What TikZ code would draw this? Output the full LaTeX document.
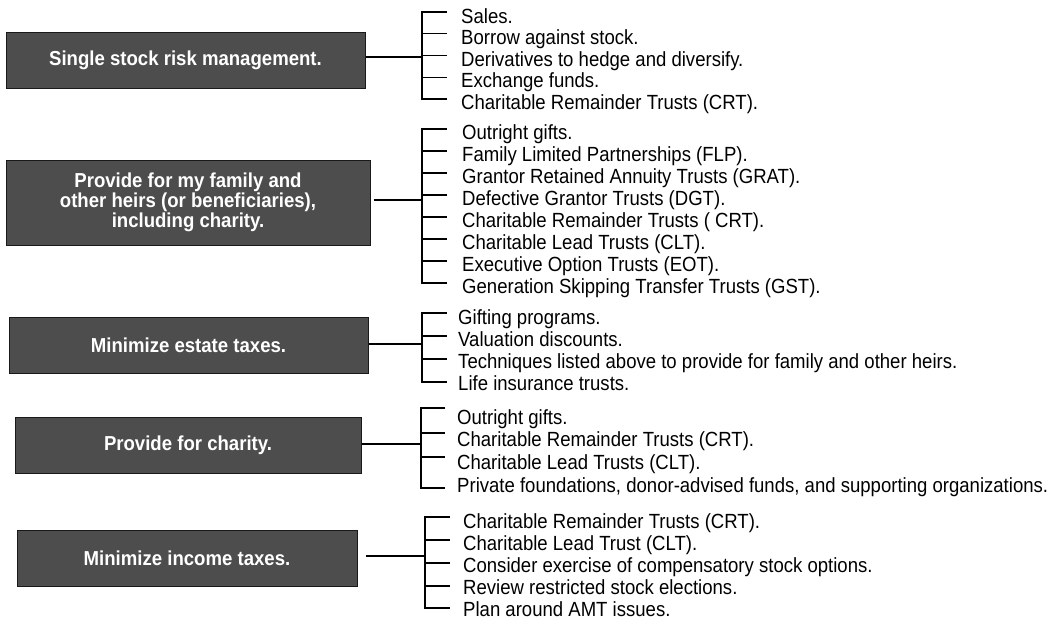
\documentclass[tikz,border=0pt]{standalone}
\usepackage{fontspec}
\setmainfont{Liberation Sans}
\newfontfamily\listfont[FakeStretch=0.905]{Liberation Sans}
\newfontfamily\goalfont[FakeStretch=0.92]{Liberation Sans}
\definecolor{boxgray}{HTML}{4D4D4D}
\begin{document}
\begin{tikzpicture}[x=1pt,y=-1pt,
  goal/.style={draw=black!90, line width=1pt, fill=boxgray, text=white,
    font=\goalfont\fontsize{20.2}{20}\selectfont\bfseries, inner sep=0pt, align=center},
  item/.style={anchor=base west, inner sep=0pt, font=\listfont\fontsize{20.5}{22}\selectfont},
  conn/.style={line width=1.3pt, draw=black}]
\useasboundingbox (0,0) rectangle (1054,621);

% goal boxes
\node[goal, minimum width=359pt, minimum height=56pt] (b1) at (185.5,60) {Single stock risk management.};
\node[goal, minimum width=364pt, minimum height=85pt] (b2) at (188,202.5) {Provide for my family and\\other heirs (or beneficiaries),\\including charity.};
\node[goal, minimum width=359pt, minimum height=56pt] (b3) at (188.5,345) {Minimize estate taxes.};
\node[goal, minimum width=346pt, minimum height=56pt] (b4) at (188,445) {Provide for charity.};
\node[goal, minimum width=340pt, minimum height=56pt] (b5) at (187,558) {Minimize income taxes.};

% junction points on the brackets
\coordinate (j1) at (422,57);
\coordinate (j2) at (422,200);
\coordinate (j3) at (422,344);
\coordinate (j4) at (421,444);
\coordinate (j5) at (425,556);

\draw[conn] (b1.east |- j1) -- (j1);
\draw[conn] ([xshift=3pt]b2.east |- j2) -- (j2);
\draw[conn] (b3.east |- j3) -- (j3);
\draw[conn] (b4.east |- j4) -- (j4);
\draw[conn] ([xshift=8pt]b5.east |- j5) -- (j5);

% group 1
\foreach \ty/\ly/\txt [count=\i] in {12/16/Sales., 33.75/37.5/Borrow against stock., 55.5/59/Derivatives to hedge and diversify., 77.25/80.5/Exchange funds., 99/102/Charitable Remainder Trusts (CRT).}{
  \coordinate (a\i) at (422,\ty);
  \coordinate (ae\i) at (447,\ty);
  \node[item] (ai\i) at (461,\ly+7.3) {\txt};
  \draw[conn] (a\i) -- (ae\i);
}
\draw[conn] (ae1) -- (a1) -- (a5) -- (ae5);

% group 2
\foreach \ty/\ly/\txt [count=\i] in {129/132/Outright gifts., 151/154/Family Limited Partnerships (FLP)., 173/176/Grantor Retained Annuity Trusts (GRAT)., 195/198/Defective Grantor Trusts (DGT)., 217/220/Charitable Remainder Trusts ( CRT)., 239/242/Charitable Lead Trusts (CLT)., 261/264/Executive Option Trusts (EOT)., 283/286/Generation Skipping Transfer Trusts (GST).}{
  \coordinate (c\i) at (422,\ty);
  \coordinate (ce\i) at (447,\ty);
  \node[item] (ci\i) at (462,\ly+7.3) {\txt};
  \draw[conn] (c\i) -- (ce\i);
}
\draw[conn] (ce1) -- (c1) -- (c8) -- (ce8);

% group 3
\foreach \ty/\ly/\txt [count=\i] in {313/317/Gifting programs., 336/339/Valuation discounts., 359/361/Techniques listed above to provide for family and other heirs., 382/383/Life insurance trusts.}{
  \coordinate (d\i) at (422,\ty);
  \coordinate (de\i) at (447,\ty);
  \node[item] (di\i) at (458,\ly+7.3) {\txt};
  \draw[conn] (d\i) -- (de\i);
}
\draw[conn] (de1) -- (d1) -- (d4) -- (de4);

% group 4
\foreach \ty/\ly/\txt [count=\i] in {408/417/Outright gifts., 433/439.5/Charitable Remainder Trusts (CRT)., 457/462/Charitable Lead Trusts (CLT)., 488/485/{Private foundations, donor-advised funds, and supporting organizations.}}{
  \coordinate (f\i) at (421,\ty);
  \coordinate (fe\i) at (445,\ty);
  \node[item] (fi\i) at (457,\ly+7.3) {\txt};
  \draw[conn] (f\i) -- (fe\i);
}
\draw[conn] (fe1) -- (f1) -- (f4) -- (fe4);

% group 5
\foreach \ty/\ly/\txt [count=\i] in {517/521/Charitable Remainder Trusts (CRT)., 540/543/Charitable Lead Trust (CLT)., 563/565/Consider exercise of compensatory stock options., 586/587/Review restricted stock elections., 608/609/Plan around AMT issues.}{
  \coordinate (h\i) at (425,\ty);
  \coordinate (he\i) at (450,\ty);
  \node[item] (hi\i) at (463,\ly+7.3) {\txt};
  \draw[conn] (h\i) -- (he\i);
}
\draw[conn] (he1) -- (h1) -- (h5) -- (he5);
\end{tikzpicture}
\end{document}
